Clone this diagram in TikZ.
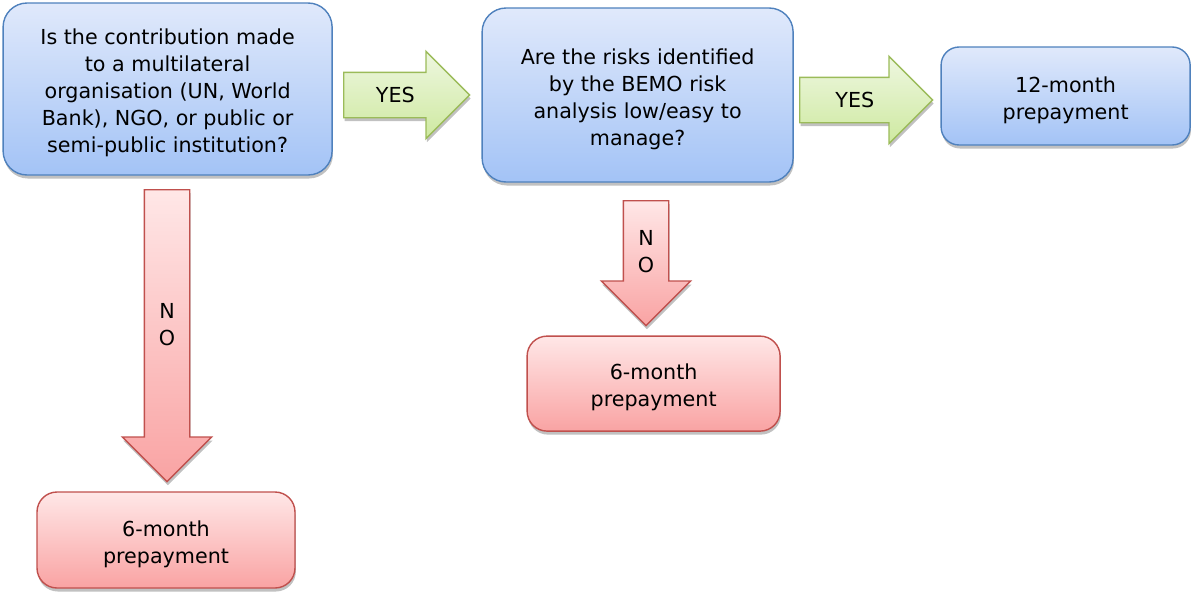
\documentclass[tikz,border=0pt]{standalone}
\usepackage{fontspec}
\setmainfont{DejaVu Sans}
\usetikzlibrary{shapes.arrows,shadows,positioning}

\definecolor{qline}{RGB}{79,129,189}
\definecolor{qtop}{RGB}{224,233,251}
\definecolor{qbot}{RGB}{163,195,246}
\definecolor{rline}{RGB}{192,80,77}
\definecolor{rtop}{RGB}{255,231,231}
\definecolor{rbot}{RGB}{249,163,163}
\definecolor{gline}{RGB}{155,187,89}
\definecolor{gtop}{RGB}{238,247,224}
\definecolor{gbot}{RGB}{206,233,160}
\newcommand{\topgap}{\rule{0pt}{17pt}}

\begin{document}
\begin{tikzpicture}[
   txt/.style={font=\fontsize{14.7}{19.2}\selectfont, align=center},
   shd/.style={drop shadow={shadow xshift=0.6pt, shadow yshift=-2.5pt, opacity=0.35, fill=black!70}},
   qbox/.style={txt, shd, rectangle, rounded corners=0.6cm, draw=qline, line width=1pt,
                top color=qtop, bottom color=qbot, inner sep=0pt},
   pbox/.style={txt, shd, rectangle, rounded corners=0.5cm, draw=rline, line width=1pt,
                top color=rtop, bottom color=rbot, inner sep=0pt},
   yesarr/.style={txt, shd, single arrow, draw=gline, line width=1pt, top color=gtop, bottom color=gbot,
                  single arrow head extend=0.525cm, inner sep=0pt, text height=0.74cm, text depth=0.36cm, anchor=tail},
   noarr/.style={txt, shd, single arrow, shape border rotate=270, draw=rline, line width=1pt,
                 top color=rtop, bottom color=rbot, single arrow head extend=0.55cm,
                 inner sep=0pt, text width=1.1cm, anchor=tail}]
   \useasboundingbox (0,0) rectangle (29.8,-14.8);

   % question boxes
   \path (4.19,-2.225)  node (q1) [qbox, minimum width=8.225cm, minimum height=4.3cm]
            {\topgap Is the contribution made\\to a multilateral\\organisation (UN, World\\Bank), NGO, or public or\\semi-public institution?}
         (15.94,-2.375) node (q2) [qbox, minimum width=7.775cm, minimum height=4.35cm]
            {\topgap Are the risks identified\\by the BEMO risk\\analysis low/easy to\\manage?};

   % outcomes
   \path (26.64,-2.4)  node (p12) [qbox, rounded corners=0.45cm, minimum width=6.225cm, minimum height=2.45cm] {\topgap 12-month\\prepayment}
         (4.15,-13.5)  node (p6a) [pbox, minimum width=6.45cm, minimum height=2.4cm] {\topgap 6-month\\prepayment}
         (16.34,-9.59) node (p6b) [pbox, minimum width=6.325cm, minimum height=2.375cm] {\topgap 6-month\\prepayment};

   % block arrows
   \path (8.575,-2.375) node (yes1) [yesarr, minimum height=3.15cm, minimum width=2.15cm] {YES}
         (19.975,-2.5)  node (yes2) [yesarr, minimum height=3.325cm, minimum width=2.15cm] {YES}
         (4.175,-4.725) node (no1) [noarr, minimum height=7.3cm, minimum width=2.2cm] {N\\O}
         (16.15,-5.0)   node (no2) [noarr, minimum height=3.125cm, minimum width=2.2cm] {N\\O};
\end{tikzpicture}
\end{document}
